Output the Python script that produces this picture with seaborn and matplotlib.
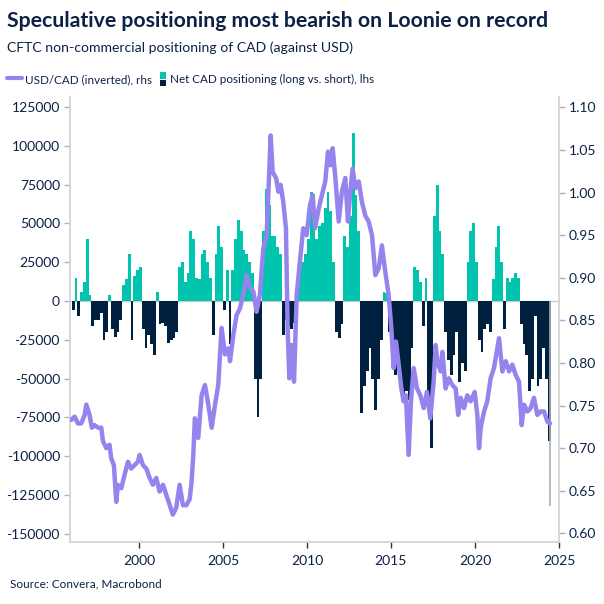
import numpy as np
import pandas as pd
import matplotlib
matplotlib.use("Agg")
import matplotlib.pyplot as plt
import seaborn as sns
from matplotlib.lines import Line2D
from matplotlib.patches import Rectangle
from matplotlib.legend_handler import HandlerBase

# ---------------- data ----------------
# Net CAD non-commercial positioning (contracts), two-month buckets from Jan 1996
bar_start_year = 1996
bars_per_year = 6
pos_1996 = [-6000, 15000, -10000, 6000, 12000, 40000]
pos_1997 = [4000, -16000, -12000, -12000, -8000, -25000]
pos_1998 = [-20000, 4000, -18000, -23000, -20000, -12000]
pos_1999 = [10000, 14000, 30000, -25000, 16000, 20000]
pos_2000 = [22000, -18000, -30000, -22000, -28000, -35000]
pos_2001 = [6000, -15000, -14000, -16000, -27000, -25000]
pos_2002 = [-24000, -20000, 22000, 25000, 12000, 18000]
pos_2003 = [45000, 40000, 15000, 14000, 30000, 33000]
pos_2004 = [25000, 15000, -22000, 30000, 48000, 35000]
pos_2005 = [-6000, 20000, -28000, 20000, 40000, 52000]
pos_2006 = [45000, 33000, 30000, 25000, 18000, -50000]
pos_2007 = [-75000, -50000, 45000, 72000, 62000, 42000]
pos_2008 = [42000, 35000, 30000, -22000, -12000, -16000]
pos_2009 = [-18000, -14000, 10000, 22000, 25000, 30000]
pos_2010 = [40000, 70000, 50000, 40000, 48000, 50000]
pos_2011 = [60000, 70000, 58000, 25000, -20000, -24000]
pos_2012 = [-15000, 42000, 35000, 55000, 108000, 68000]
pos_2013 = [45000, -72000, -55000, -45000, -30000, -50000]
pos_2014 = [-70000, -50000, -25000, 6000, 5000, -20000]
pos_2015 = [-30000, -48000, -35000, -55000, -65000, -58000]
pos_2016 = [-64000, -30000, 22000, 20000, 12000, -16000]
pos_2017 = [15000, -65000, -95000, 55000, 75000, 45000]
pos_2018 = [30000, -20000, -38000, -48000, -35000, -20000]
pos_2019 = [-52000, -40000, -45000, 25000, 45000, 50000]
pos_2020 = [25000, -25000, -33000, -18000, -15000, -20000]
pos_2021 = [14000, 35000, 48000, 25000, -18000, 15000]
pos_2022 = [12000, 15000, 18000, 15000, -15000, -28000]
pos_2023 = [-35000, -58000, -50000, -10000, -55000, -50000]
pos_2024 = [-30000, -50000, -90000]
latest_week_date = 2024.45
latest_week_value = -132000

# USD/CAD inverted, read at irregular dates
fx_dates = [1995.97, 1996.17, 1996.37, 1996.57, 1996.77, 1996.87, 1997.06, 1997.20, 1997.36, 1997.56,
            1997.76, 1997.86, 1998.06, 1998.25, 1998.35, 1998.51, 1998.65, 1998.75, 1998.95, 1999.15,
            1999.35, 1999.54, 1999.74, 1999.94, 2000.04, 2000.24, 2000.44, 2000.64, 2000.83, 2001.03,
            2001.23, 2001.43, 2001.63, 2001.83, 2002.02, 2002.22, 2002.42, 2002.62, 2002.82, 2003.02,
            2003.13, 2003.23, 2003.33, 2003.53, 2003.73, 2003.93, 2004.13, 2004.33, 2004.53, 2004.72,
            2004.92, 2005.12, 2005.32, 2005.42, 2005.62, 2005.81, 2006.01, 2006.21, 2006.41, 2006.61,
            2006.81, 2007.00, 2007.20, 2007.40, 2007.60, 2007.70, 2007.84, 2007.96, 2008.16, 2008.30,
            2008.43, 2008.59, 2008.75, 2008.85, 2008.95, 2009.09, 2009.23, 2009.39, 2009.58, 2009.78,
            2009.98, 2010.18, 2010.34, 2010.48, 2010.70, 2010.89, 2011.09, 2011.25, 2011.39, 2011.53,
            2011.69, 2011.89, 2012.08, 2012.28, 2012.44, 2012.58, 2012.72, 2012.88, 2013.08, 2013.27,
            2013.47, 2013.67, 2013.87, 2014.07, 2014.27, 2014.46, 2014.66, 2014.86, 2015.02, 2015.16,
            2015.30, 2015.46, 2015.62, 2015.75, 2015.89, 2016.05, 2016.19, 2016.35, 2016.55, 2016.75,
            2016.95, 2017.14, 2017.34, 2017.54, 2017.66, 2017.76, 2017.96, 2018.06, 2018.25, 2018.45,
            2018.65, 2018.85, 2019.00, 2019.15, 2019.35, 2019.54, 2019.74, 2019.98, 2020.14, 2020.24,
            2020.34, 2020.54, 2020.73, 2020.93, 2021.13, 2021.33, 2021.43, 2021.63, 2021.83, 2022.03,
            2022.22, 2022.42, 2022.62, 2022.78, 2022.92, 2023.12, 2023.31, 2023.51, 2023.71, 2023.91,
            2024.11, 2024.31, 2024.47]
fx_values = [0.733, 0.737, 0.729, 0.729, 0.739, 0.751, 0.739, 0.724, 0.727, 0.724,
             0.724, 0.708, 0.700, 0.704, 0.688, 0.680, 0.637, 0.657, 0.653, 0.669,
             0.684, 0.676, 0.680, 0.684, 0.692, 0.680, 0.676, 0.665, 0.657, 0.665,
             0.649, 0.657, 0.645, 0.633, 0.622, 0.630, 0.657, 0.633, 0.633, 0.640,
             0.660, 0.690, 0.735, 0.712, 0.762, 0.774, 0.751, 0.724, 0.751, 0.774,
             0.841, 0.810, 0.817, 0.802, 0.833, 0.856, 0.864, 0.880, 0.903, 0.888,
             0.884, 0.860, 0.880, 0.934, 0.950, 0.997, 1.067, 1.024, 1.017, 1.001,
             1.009, 0.989, 0.958, 0.841, 0.782, 0.821, 0.778, 0.880, 0.919, 0.958,
             0.950, 0.985, 0.997, 0.958, 0.981, 0.997, 1.013, 1.048, 1.032, 1.052,
             1.017, 0.966, 1.001, 1.017, 0.966, 1.001, 1.028, 1.005, 1.013, 0.989,
             0.973, 0.966, 0.950, 0.903, 0.911, 0.938, 0.907, 0.880, 0.841, 0.794,
             0.825, 0.798, 0.770, 0.755, 0.762, 0.692, 0.755, 0.794, 0.770, 0.762,
             0.747, 0.766, 0.735, 0.778, 0.821, 0.802, 0.790, 0.813, 0.770, 0.782,
             0.774, 0.770, 0.739, 0.759, 0.747, 0.762, 0.755, 0.766, 0.739, 0.700,
             0.724, 0.743, 0.755, 0.782, 0.794, 0.817, 0.829, 0.790, 0.802, 0.790,
             0.798, 0.786, 0.778, 0.727, 0.751, 0.743, 0.747, 0.759, 0.739, 0.743,
             0.743, 0.731, 0.729]

left_ticks = [-150000, -125000, -100000, -75000, -50000, -25000, 0, 25000, 50000, 75000, 100000, 125000]
right_ticks = [0.60, 0.65, 0.70, 0.75, 0.80, 0.85, 0.90, 0.95, 1.00, 1.05, 1.10]
x_ticks = [2000, 2005, 2010, 2015, 2020, 2025]

title = "Speculative positioning most bearish on Loonie on record"
subtitle = "CFTC non-commercial positioning of CAD (against USD)"
line_label = "USD/CAD (inverted), rhs"
bar_label = "Net CAD positioning (long vs. short), lhs"
source = "Source: Convera, Macrobond"

# ---------------- style ----------------
TEAL = "#00C4AE"
NAVY = "#00203F"
PURPLE = "#9584EE"
TEXT = "#0D2145"
SPINE = "#D3D3D3"

sns.set_theme(style="white")
plt.rcParams["font.family"] = ["Lato", "DejaVu Sans"]

positions = (pos_1996 + pos_1997 + pos_1998 + pos_1999 + pos_2000 + pos_2001 + pos_2002 +
             pos_2003 + pos_2004 + pos_2005 + pos_2006 + pos_2007 + pos_2008 + pos_2009 +
             pos_2010 + pos_2011 + pos_2012 + pos_2013 + pos_2014 + pos_2015 + pos_2016 +
             pos_2017 + pos_2018 + pos_2019 + pos_2020 + pos_2021 + pos_2022 + pos_2023 + pos_2024)
pos_arr = np.array(positions, dtype=float)
edges = bar_start_year + np.arange(len(positions) + 1) / bars_per_year
fx_df = pd.DataFrame({"date": fx_dates, "fx": fx_values})

fig = plt.figure(figsize=(6.04, 6.04), dpi=100)
ax = fig.add_axes([0.1154, 0.1026, 0.9255 - 0.1154, 0.8394 - 0.1026])

# long / short positioning as contiguous bar steps
ax.stairs(np.clip(pos_arr, 0, None), edges, baseline=0, fill=True, color=TEAL, lw=0)
ax.stairs(np.clip(pos_arr, None, 0), edges, baseline=0, fill=True, color=NAVY, lw=0)
ax.vlines(latest_week_date, 0, latest_week_value, color="#A9AEB6", lw=1.2)
ax.axhline(0, color="#C8CCD0", lw=1.0, zorder=0.5)

ax.set_xlim(1995.88, 2025.0)
ax.set_ylim(-155300, 131400)
ax.set_yticks(left_ticks)
ax.set_yticklabels([f"{t:d}" for t in left_ticks])
ax.set_xticks(x_ticks)
ax.set_xticklabels([str(t) for t in x_ticks])

ax2 = ax.twinx()
sns.lineplot(data=fx_df, x="date", y="fx", ax=ax2, color=PURPLE, lw=3.2, legend=False)
ax2.set_ylim(0.5898, 1.1121)
ax2.set_yticks(right_ticks)
ax2.set_yticklabels([f"{t:.2f}" for t in right_ticks])
ax2.set_xlim(1995.88, 2025.0)
ax2.set_xlabel("")
ax2.set_ylabel("")
ax.set_xlabel("")
ax.set_ylabel("")

for a in (ax, ax2):
    for s in a.spines.values():
        s.set_visible(False)
ax.spines["left"].set_visible(True)
ax.spines["left"].set_color(SPINE)
ax.spines["bottom"].set_visible(True)
ax.spines["bottom"].set_color(SPINE)
ax2.spines["right"].set_visible(True)
ax2.spines["right"].set_color(SPINE)

ax.tick_params(axis="y", left=True, direction="out", length=4, width=1, color="#B0B0B0",
               labelsize=10, labelcolor=TEXT, pad=3)
ax.tick_params(axis="x", bottom=True, direction="out", length=4, width=1, color="#333333",
               labelsize=10, labelcolor=TEXT, pad=5)
ax2.tick_params(axis="y", right=True, direction="out", length=4, width=1, color="#B0B0B0",
                labelsize=10, labelcolor=TEXT, pad=3)
ax.grid(False)
ax2.grid(False)

# ---------------- texts ----------------
fig.text(0.012, 0.966, title, fontsize=15.3, fontweight="bold", color=TEXT, va="center", ha="left")
fig.text(0.012, 0.921, subtitle, fontsize=10.1, color=TEXT, va="center", ha="left")
fig.text(0.017, 0.033, source, fontsize=8.5, color=TEXT, va="center", ha="left")


class SplitSquare:
    pass


class HandlerSplit(HandlerBase):
    def create_artists(self, legend, orig_handle, xdescent, ydescent, width, height, fontsize, trans):
        w = 4.5
        x0 = -xdescent + width - w - 1.0
        h = height * 0.55
        top = Rectangle((x0, -ydescent + height / 2 + 0.4), w, h, facecolor=TEAL, lw=0, transform=trans)
        bot = Rectangle((x0, -ydescent + height / 2 - 0.4 - h), w, h, facecolor=NAVY, lw=0, transform=trans)
        return [top, bot]


handles = [Line2D([], [], color=PURPLE, lw=3), SplitSquare()]
leg = fig.legend(handles, [line_label, bar_label], handler_map={SplitSquare: HandlerSplit()},
                 loc="center left", bbox_to_anchor=(0.012, 0.869), ncol=2, frameon=False,
                 fontsize=8.4, handlelength=1.3, handletextpad=0.25, columnspacing=0.0,
                 handleheight=1.2, borderaxespad=0, borderpad=0)
for t in leg.get_texts():
    t.set_color(TEXT)

fig.savefig("out.png", dpi=100)
